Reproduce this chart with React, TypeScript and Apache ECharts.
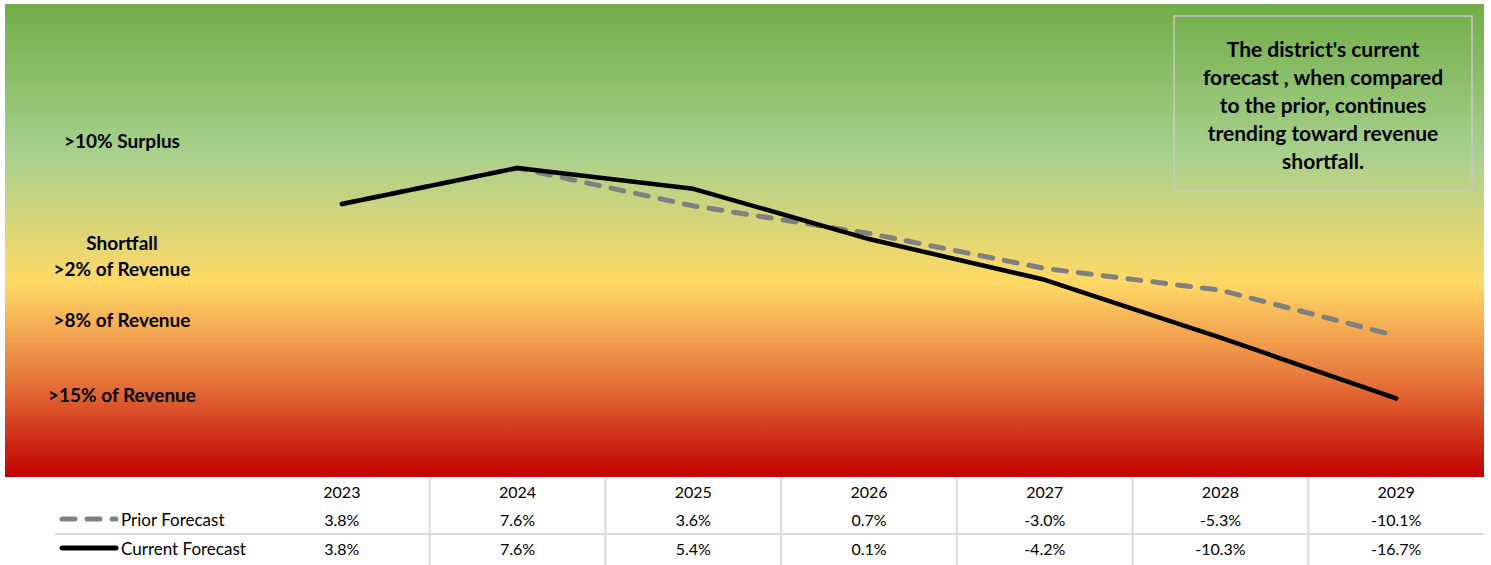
import React, { useEffect, useRef } from "react";
import * as echarts from "echarts";

const years = ["2023", "2024", "2025", "2026", "2027", "2028", "2029"];
const priorForecast = [3.8, 7.6, 3.6, 0.7, -3.0, -5.3, -10.1];
const currentForecast = [3.8, 7.6, 5.4, 0.1, -4.2, -10.3, -16.7];
const seriesNames = ["Prior Forecast", "Current Forecast"];
const zoneLabels = [
  { text: ">10% Surplus", y: 140 },
  { text: "Shortfall\n>2% of Revenue", y: 255 },
  { text: ">8% of Revenue", y: 319 },
  { text: ">15% of Revenue", y: 394 },
];
const noteText =
  "The district's current\nforecast , when compared\nto the prior, continues\ntrending toward revenue\nshortfall.";

const FONT = "Lato, 'Open Sans', sans-serif";
const fmt = (v: number) => v.toFixed(1) + "%";

export default function App() {
  const ref = useRef<HTMLDivElement>(null);
  useEffect(() => {
    if (!ref.current) return;
    const chart = echarts.init(ref.current, null, { renderer: "svg" });
    const W = 1491;
    const H = 565;
    const gridTop = 3;
    const gridBottom = 88;
    const gridLeft = 254;
    const gridRight = 7;
    const plotBottom = H - gridBottom;

    const baseGraphics: any[] = [
      {
        type: "rect",
        z: -10,
        silent: true,
        shape: { x: 5, y: gridTop + 1, width: W - gridRight - 5, height: plotBottom - gridTop - 1 },
        style: {
          fill: new echarts.graphic.LinearGradient(0, 0, 0, 1, [
            { offset: 0, color: "#70AD47" },
            { offset: 0.32, color: "#A9D18E" },
            { offset: 0.59, color: "#FFD966" },
            { offset: 0.8, color: "#E5733A" },
            { offset: 1, color: "#C00000" },
          ]),
        },
      },
      ...zoneLabels.map((z) => ({
        type: "text",
        z: 5,
        x: 122,
        y: z.y,
        style: {
          text: z.text,
          fill: "#000",
          font: `bold 19px ${FONT}`,
          align: "center",
          verticalAlign: "middle",
          lineHeight: 26,
        },
      })),
      {
        type: "rect",
        z: 5,
        shape: { x: 1174, y: 16, width: 298, height: 175 },
        style: { fill: "none", stroke: "#C9C9C9", lineWidth: 1.5 },
      },
      {
        type: "text",
        z: 6,
        x: 1323,
        y: 104,
        style: {
          text: noteText,
          fill: "#000",
          font: `bold 21px ${FONT}`,
          align: "center",
          verticalAlign: "middle",
          lineHeight: 28,
        },
      },
      // table row labels with legend keys
      {
        type: "line",
        z: 5,
        shape: { x1: 62, y1: 519, x2: 116, y2: 519 },
        style: { stroke: "#808080", lineWidth: 5, lineCap: "round", lineDash: [13, 12] },
      },
      {
        type: "text",
        z: 5,
        x: 121,
        y: 519,
        style: { text: seriesNames[0], fill: "#000", font: `17px ${FONT}`, align: "left", verticalAlign: "middle" },
      },
      {
        type: "line",
        z: 5,
        shape: { x1: 62, y1: 548, x2: 116, y2: 548 },
        style: { stroke: "#000", lineWidth: 5, lineCap: "round" },
      },
      {
        type: "text",
        z: 5,
        x: 121,
        y: 548,
        style: { text: seriesNames[1], fill: "#000", font: `17px ${FONT}`, align: "left", verticalAlign: "middle" },
      },
      {
        type: "line",
        z: 4,
        shape: { x1: 55, y1: 534, x2: W - gridRight, y2: 534 },
        style: { stroke: "#D9D9D9", lineWidth: 2 },
      },
    ];

    const option: any = {
      animation: false,
      backgroundColor: "#fff",
      grid: { left: gridLeft, right: gridRight, top: gridTop, bottom: gridBottom, containLabel: false },
      xAxis: {
        type: "category",
        data: years,
        boundaryGap: true,
        axisLine: { show: false },
        axisTick: { show: false },
        splitLine: { show: false },
        axisLabel: {
          margin: 0,
          interval: 0,
          color: "#000",
          fontFamily: FONT,
          fontSize: 16,
          lineHeight: 28.5,
          formatter: (v: string, i: number) =>
            `${v}\n${fmt(priorForecast[i])}\n${fmt(currentForecast[i])}`,
        },
      },
      yAxis: {
        type: "value",
        min: -25,
        max: 25,
        show: false,
        splitLine: { show: false },
      },
      series: [
        {
          name: seriesNames[0],
          type: "line",
          data: priorForecast,
          symbol: "none",
          z: 3,
          lineStyle: { color: "#808080", width: 5, type: [13, 12], cap: "round", join: "round" },
        },
        {
          name: seriesNames[1],
          type: "line",
          data: currentForecast,
          symbol: "none",
          z: 4,
          lineStyle: { color: "#000", width: 4.5, cap: "round", join: "round" },
        },
      ],
      graphic: baseGraphics,
    };
    chart.setOption(option);

    const seps: any[] = [];
    for (let i = 0; i < years.length - 1; i++) {
      const a = chart.convertToPixel({ xAxisIndex: 0 }, i) as number;
      const b = chart.convertToPixel({ xAxisIndex: 0 }, i + 1) as number;
      const x = (a + b) / 2;
      seps.push({
        type: "line",
        z: 4,
        shape: { x1: x, y1: plotBottom, x2: x, y2: H },
        style: { stroke: "#D9D9D9", lineWidth: 2 },
      });
    }
    chart.setOption({ graphic: [...baseGraphics, ...seps] }, { replaceMerge: ["graphic"] });

    return () => chart.dispose();
  }, []);
  return (
    <div
      ref={ref}
      style={{ position: "fixed", left: 0, top: 0, width: 1491, height: 565 }}
    />
  );
}
